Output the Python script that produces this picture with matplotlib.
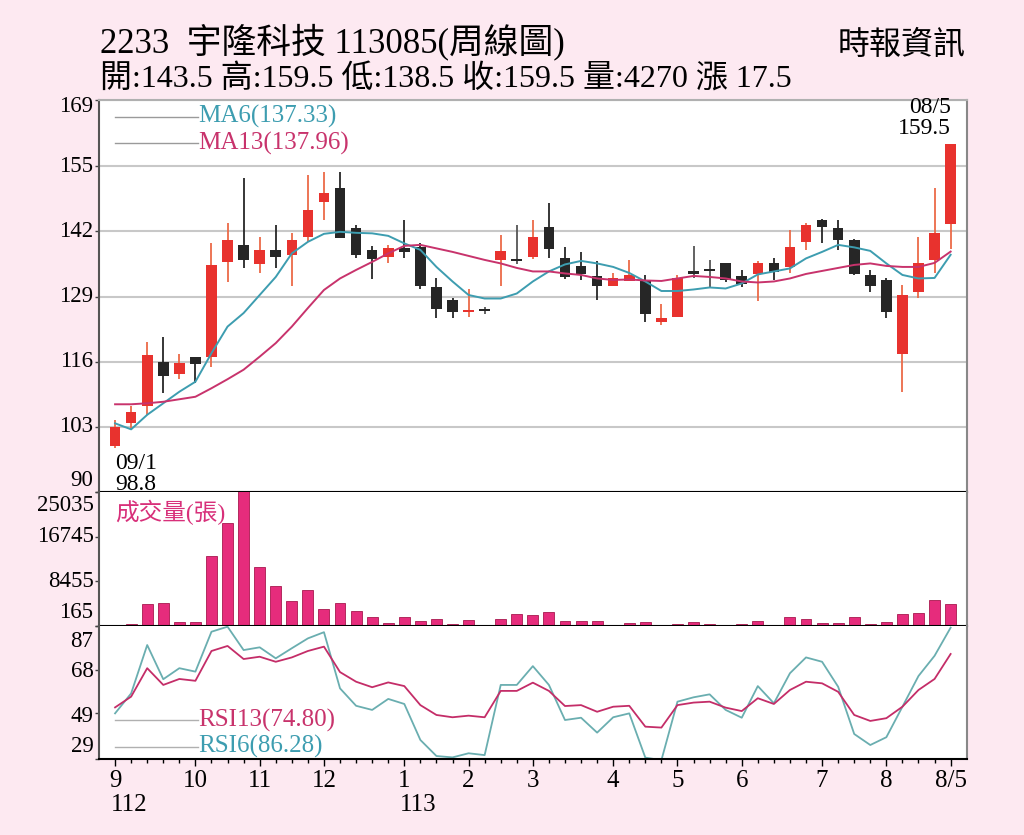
import numpy as np
import matplotlib
matplotlib.use("Agg")
import matplotlib.pyplot as plt
from matplotlib.transforms import ScaledTranslation

plt.rcParams['font.family'] = ['Liberation Serif', 'Noto Sans CJK TC']

# weekly candles (112/09 -> 113/08/05)
opens = np.array([99.2, 103.8, 107.2, 115.9, 113.5, 116.9, 117.0, 135.8, 139.3, 135.4,
                  138.3, 137.3, 140.8, 147.8, 150.7, 142.7, 138.3, 136.8, 138.6, 138.8,
                  130.8, 128.3, 126.0, 126.4, 136.3, 136.4, 136.9, 142.8, 136.6, 135.1,
                  133.1, 131.0, 132.1, 132.1, 124.0, 124.9, 133.9, 134.4, 135.6, 133.1,
                  133.5, 135.6, 134.9, 139.8, 144.2, 142.7, 140.3, 133.3, 132.3, 117.5,
                  129.9, 136.3, 143.5])
highs = np.array([104.4, 107.2, 119.9, 120.9, 117.5, 117.0, 139.6, 143.7, 152.7, 140.8,
                  143.2, 141.7, 153.2, 153.9, 153.9, 143.2, 139.0, 139.3, 144.2, 139.6,
                  132.6, 128.8, 130.4, 126.9, 141.3, 143.2, 144.2, 147.7, 138.8, 137.8,
                  136.1, 133.6, 136.3, 133.3, 127.5, 133.3, 139.0, 136.3, 135.7, 134.3,
                  136.1, 136.7, 142.3, 143.7, 144.4, 144.2, 140.5, 134.3, 132.6, 131.3,
                  140.8, 150.7, 159.5])
lows = np.array([98.8, 102.4, 105.3, 109.8, 112.5, 111.7, 115.0, 131.8, 134.7, 133.7,
                 134.7, 131.1, 139.9, 144.2, 140.7, 136.7, 132.4, 135.7, 136.7, 130.4,
                 124.8, 124.8, 125.0, 125.5, 131.0, 135.5, 136.4, 136.6, 132.4, 132.3,
                 128.3, 131.0, 132.0, 123.9, 123.3, 124.9, 132.6, 130.8, 131.8, 130.8,
                 128.2, 132.3, 133.7, 138.3, 139.7, 138.3, 133.3, 129.9, 124.8, 110.0,
                 128.8, 133.7, 138.5])
closes = np.array([103.0, 105.9, 117.4, 113.1, 115.8, 115.6, 135.3, 140.3, 136.3, 138.3,
                   136.9, 140.3, 146.2, 149.7, 140.7, 137.3, 136.4, 138.7, 137.9, 131.0,
                   126.5, 126.0, 126.3, 126.1, 138.0, 136.2, 140.8, 138.4, 132.8, 133.4,
                   131.0, 132.6, 133.2, 125.5, 124.7, 132.6, 133.7, 134.2, 132.3, 131.4,
                   135.6, 133.9, 138.8, 143.2, 142.9, 140.3, 133.4, 131.0, 126.0, 129.2,
                   135.6, 141.7, 159.5])
ma6 = [103.7, 102.5, 105.4, 107.7, 110.0, 112.0, 117.7, 123.0, 125.7, 129.3,
       132.9, 137.6, 139.9, 141.5, 141.9, 141.7, 141.6, 141.1, 139.6, 138.3,
       134.9, 132.0, 129.3, 128.6, 128.6, 129.6, 132.0, 134.0, 135.4, 136.1,
       135.6, 134.9, 133.7, 132.0, 130.1, 130.1, 130.4, 130.8, 130.6, 131.6,
       133.4, 134.0, 134.6, 136.6, 137.9, 139.3, 138.8, 138.1, 135.6, 133.3,
       132.6, 132.7, 137.33]
ma13 = [107.5, 107.5, 107.7, 108.0, 108.5, 109.0, 110.7, 112.5, 114.4, 117.0,
        119.7, 123.0, 126.7, 130.3, 132.6, 134.3, 135.9, 137.6, 139.1, 139.3,
        138.6, 137.9, 137.1, 136.3, 135.6, 134.7, 134.0, 134.0, 133.6, 133.3,
        132.6, 132.3, 132.4, 132.2, 132.1, 132.6, 133.1, 132.9, 132.6, 132.0,
        131.8, 132.0, 132.6, 133.5, 134.1, 134.7, 135.3, 135.6, 135.1, 134.9,
        134.9, 135.7, 137.96]
volume = [220, 536, 4193, 4378, 907, 907, 13157, 19226, 27000, 11060,
          7589, 4805, 6847, 3265, 4489, 2949, 1891, 777, 1780, 1037,
          1408, 536, 1279, 180, 1520, 2392, 2207, 2763, 1149, 1149,
          1037, 295, 722, 907, 406, 592, 963, 536, 406, 480,
          1149, 406, 1891, 1464, 777, 777, 1780, 480, 963, 2337,
          2522, 4991, 4270]
rsi6 = [48.9, 57.6, 78.7, 63.8, 68.6, 67.1, 84.5, 86.7, 76.5, 77.7,
        72.9, 77.3, 81.6, 84.3, 59.8, 52.2, 50.4, 55.2, 53.0, 37.3,
        30.3, 29.7, 31.5, 30.7, 61.3, 61.3, 69.5, 61.3, 46.0, 47.0,
        40.5, 47.2, 48.9, 29.6, 28.5, 54.0, 55.9, 57.2, 50.4, 47.0,
        60.8, 53.3, 66.4, 73.3, 71.4, 60.5, 39.9, 35.1, 38.5, 51.8,
        65.2, 74.0, 86.28]
rsi13 = [51.5, 56.2, 68.6, 61.3, 63.9, 63.1, 76.1, 78.3, 72.6, 73.6,
         71.4, 73.3, 76.1, 78.0, 66.9, 62.7, 60.3, 62.4, 60.8, 52.5,
         48.2, 47.2, 47.9, 47.2, 58.7, 58.7, 62.3, 58.7, 52.1, 52.5,
         49.6, 51.8, 52.2, 43.1, 42.7, 52.5, 53.6, 54.0, 51.4, 49.9,
         55.5, 53.0, 59.1, 62.7, 62.0, 58.3, 48.2, 45.6, 46.8, 51.8,
         59.1, 63.9, 74.8]

month_idx = [0, 5, 9, 13, 18, 22, 26, 31, 35, 39, 44, 48, 52]
month_lab = ['9', '10', '11', '12', '1', '2', '3', '4', '5', '6', '7', '8', '8/5']

RED = '#e8322e'
BLACK = '#262626'
TEAL = '#3d9db0'
PINK = '#c8336c'
BG = '#fde9f1'

fig = plt.figure(figsize=(10.24, 8.35), dpi=100, facecolor=BG)
L, W = 99 / 1024, 867.7 / 1024
ax1 = fig.add_axes([L, 1 - 492 / 835, W, 392 / 835])
ax2 = fig.add_axes([L, 1 - 626 / 835, W, 134 / 835], sharex=ax1)
ax3 = fig.add_axes([L, 1 - 759 / 835, W, 133 / 835], sharex=ax1)

x = np.arange(len(closes))

# candles
up = closes > opens
doji = np.abs(closes - opens) < 0.35
body_col = np.where(up, RED, BLACK)
wick_col = np.where(up, '#ec6a48', BLACK)
wick_col = np.where(doji & ~up, '#555555', wick_col)
ax1.vlines(x, lows, highs, colors=wick_col, lw=1.3, zorder=2)
hgt = np.maximum(np.abs(closes - opens), 0.45)
bot = (opens + closes) / 2 - hgt / 2
ax1.bar(x, hgt, bottom=bot, width=0.66, color=body_col, zorder=3)
ax1.plot(x, ma6, color=TEAL, lw=1.4, zorder=4)
ax1.plot(x, ma13, color=PINK, lw=1.4, zorder=4)

top = 168.2
ax1.set_ylim(90, top)
ax1.set_xlim(-1, 53)

# volume
ax2.bar(x, volume, width=0.68, color='#e62c7c', edgecolor='#a8184f', lw=0.6)
ax2.set_ylim(165, 25035)

# rsi
ax3.plot(x, rsi6, color='#6aaeb0', lw=1.3)
ax3.plot(x, rsi13, color='#c42d68', lw=1.3)
ax3.set_ylim(29, 87)


def ylabels(ax, vals, texts, shifts, size=16.5):
    ax.set_yticks(vals)
    ax.set_yticklabels([])
    for v, t, dy in zip(vals, texts, shifts):
        off = ScaledTranslation(-4 / 72, dy / 72, fig.dpi_scale_trans)
        ax.text(0, v, t, transform=ax.get_yaxis_transform() + off,
                ha='right', va='center', fontsize=size)


ylabels(ax1, [90, 103, 116, 129, 142, 155, top],
        ['90', '103', '116', '129', '142', '155', '169'],
        [8.5, 0, 0, 0, 0, 0, -5])
ylabels(ax2, [165, 8455, 16745, 25035], ['165', '8455', '16745', '25035'],
        [10, 0, 0, -9.5])
ylabels(ax3, [29, 49, 68, 87], ['29', '49', '68', '87'], [9, -2.5, -1.5, -11])

ax1.grid(axis='y', color='#c8c8c8', lw=1.5)
for ax in (ax1, ax2, ax3):
    ax.set_facecolor('white')
    ax.tick_params(axis='y', length=3, width=1, color='#444444')
    ax.spines['left'].set_color('#555555')
    ax.spines['left'].set_linewidth(1.5)
    ax.spines['right'].set_color('#888888')
    ax.spines['right'].set_linewidth(1.5)
    ax.spines['bottom'].set_color('black')
    ax.spines['bottom'].set_linewidth(1.5)
    ax.spines['top'].set_visible(False)
ax1.spines['top'].set_visible(True)
ax1.spines['top'].set_color('#b0b0b0')
ax1.spines['top'].set_linewidth(1.5)

ax3.set_xticks(month_idx)
ax3.set_xticklabels(month_lab, fontsize=18)
ax3.set_xticks(x, minor=True)
ax3.tick_params(axis='x', which='major', length=5, width=1, pad=3)
ax3.tick_params(axis='x', which='minor', length=3, width=1)
for ax in (ax1, ax2):
    ax.tick_params(axis='x', which='both', bottom=False, labelbottom=False)

yr_off = ScaledTranslation(-3 / 72, -33 / 72, fig.dpi_scale_trans)
for i, yr in ((0, '112'), (18, '113')):
    ax3.text(i, 0, yr, transform=ax3.get_xaxis_transform() + yr_off,
             ha='left', va='center', fontsize=18)

# legends
for yy, lab, col in ((0.957, 'MA6(137.33)', TEAL), (0.890, 'MA13(137.96)', PINK)):
    ax1.plot([0.0184, 0.114], [yy, yy], transform=ax1.transAxes, color='#9a9a9a', lw=1)
    ax1.text(0.114, yy, lab, transform=ax1.transAxes, color=col, fontsize=18, va='center')
for yy, lab, col in ((0.293, 'RSI13(74.80)', PINK), (0.092, 'RSI6(86.28)', TEAL)):
    ax3.plot([0.0184, 0.114], [yy, yy], transform=ax3.transAxes, color='#b0b0b0', lw=1)
    ax3.text(0.114, yy, lab, transform=ax3.transAxes, color=col, fontsize=18, va='center')
ax2.text(0.019, 0.85, '成交量(張)', transform=ax2.transAxes, color='#d8307a',
         fontsize=17, va='center')

# high / low notes
ax1.annotate('09/1\n98.8', (0, lows[0]), xytext=(0, -4), textcoords='offset points',
             ha='left', va='top', fontsize=17, linespacing=1.0, annotation_clip=False)
ax1.annotate('08/5\n159.5', (52, highs[52]), xytext=(0, 3), textcoords='offset points',
             ha='right', va='bottom', fontsize=17, linespacing=1.0)

# header
fig.text(100 / 1024, 1 - 42 / 835, '2233  宇隆科技 113085(周線圖)', fontsize=25, va='center')
fig.text(100 / 1024, 1 - 80 / 835, '開:143.5 高:159.5 低:138.5 收:159.5 量:4270 漲 17.5',
         fontsize=23, va='center')
fig.text(966 / 1024, 1 - 46 / 835, '時報資訊', fontsize=23, va='center', ha='right')

fig.savefig('out.png', dpi=100, facecolor=BG)
